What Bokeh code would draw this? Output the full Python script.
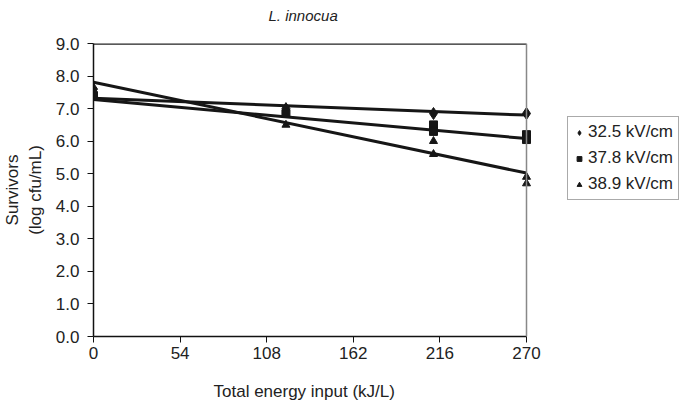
from bokeh.plotting import figure
from bokeh.models import (Legend, LegendItem, Span, FixedTicker, NumeralTickFormatter,
                          Range1d, Title)
from bokeh.embed import file_html
from bokeh.resources import INLINE

# Data
s325_x = [0, 120, 212, 270]
s325_y = [7.6, 7.0, 6.85, 6.85]
s378_x = [0, 120, 212, 212, 270, 270]
s378_y = [7.4, 6.85, 6.5, 6.3, 6.2, 6.05]
s389_x = [0, 120, 212, 212, 270, 270]
s389_y = [7.35, 6.5, 6.0, 5.6, 4.9, 4.7]

fit_x = [0, 270]
fit325 = [7.32, 6.80]
fit378 = [7.28, 6.08]
fit389 = [7.81, 5.02]

x_ticks = [0, 54, 108, 162, 216, 270]
y_ticks = [0, 1, 2, 3, 4, 5, 6, 7, 8, 9]
labels = ["32.5 kV/cm", "37.8 kV/cm", "38.9 kV/cm"]
x_title = "Total energy input (kJ/L)"
y_title = "Survivors\n(log cfu/mL)"

FONT = "Liberation Sans"
X_MAX = x_ticks[-1]
Y_MAX = y_ticks[-1]
# frame extends to the right to host the legend; axis drawn only over 0..270
LEFT, RIGHT_PAD, WIDTH = 93, 1, 681
AXIS_PX = 433
x_end = X_MAX * (WIDTH - LEFT - RIGHT_PAD) / AXIS_PX

p = figure(width=WIDTH, height=403, output_backend="svg", toolbar_location=None,
           x_range=Range1d(0, x_end), y_range=Range1d(0, Y_MAX),
           min_border_left=LEFT, min_border_right=RIGHT_PAD, min_border_top=43, min_border_bottom=67)

ttl = Title(text="L. innocua", align="left", offset=175, vertical_align="top", standoff=0,
            padding=dict(left=0, right=0, top=6, bottom=18),
            text_font=FONT, text_font_size="15px", text_font_style="italic", text_color="#222222")
p.add_layout(ttl, "above")

p.xgrid.visible = False
p.ygrid.visible = False
p.outline_line_color = None
p.background_fill_color = "white"
p.border_fill_color = "white"

for ax in (p.xaxis[0], p.yaxis[0]):
    ax.axis_line_color = "#111111"
    ax.axis_line_width = 1.5
    ax.major_tick_line_color = "#111111"
    ax.major_tick_in = 0
    ax.major_tick_out = 6
    ax.minor_tick_line_color = None
    ax.major_label_text_font = FONT
    ax.major_label_text_font_size = "17px"
    ax.major_label_text_color = "#222222"
    ax.axis_label_text_font = FONT
    ax.axis_label_text_font_size = "17px"
    ax.axis_label_text_font_style = "normal"
    ax.axis_label_text_color = "#222222"

p.xaxis.bounds = (0, X_MAX)
p.xaxis.ticker = FixedTicker(ticks=x_ticks)
p.yaxis.ticker = FixedTicker(ticks=y_ticks)
p.yaxis.formatter = NumeralTickFormatter(format="0.0")
p.xaxis.major_label_standoff = 4
p.yaxis.major_label_standoff = 8
p.yaxis.axis_label = y_title
p.yaxis.axis_label_standoff = 8

# x-axis title centred under the 0..270 axis (not the wider frame)
xt = Title(text=x_title, align="left", offset=120, standoff=0, vertical_align="top",
           padding=dict(left=0, right=0, top=20, bottom=0),
           text_font=FONT, text_font_size="17px", text_font_style="normal",
           text_color="#222222")
p.add_layout(xt, "below")

# frame top border (only over the 0..270 span) and right border in grey
p.line([x_ticks[0], X_MAX], [Y_MAX, Y_MAX], line_color="#222222", line_width=2.4)
p.add_layout(Span(location=X_MAX, dimension="height", line_color="#888888", line_width=1.5))

# trend lines
p.line(fit_x, fit325, line_color="#161616", line_width=3)
p.line(fit_x, fit378, line_color="#161616", line_width=3)
p.line(fit_x, fit389, line_color="#161616", line_width=3)

r1 = p.scatter(s325_x, s325_y, marker="diamond", size=12, color="#161616")
r2 = p.scatter(s378_x, s378_y, marker="square", size=8, color="#161616")
r3 = p.scatter(s389_x, s389_y, marker="triangle", size=8, color="#161616")

legend = Legend(items=[LegendItem(label=labels[0], renderers=[r1]),
                       LegendItem(label=labels[1], renderers=[r2]),
                       LegendItem(label=labels[2], renderers=[r3])],
                location=(474, 136))
legend.label_text_font = FONT
legend.label_text_font_size = "17px"
legend.label_text_color = "#222222"
legend.border_line_color = "#555555"
legend.border_line_width = 1
legend.background_fill_color = "white"
legend.background_fill_alpha = 1
legend.padding = 5
legend.spacing = 6
legend.label_height = 20
legend.glyph_height = 15
legend.glyph_width = 12
legend.label_standoff = 3
legend.margin = 0
p.add_layout(legend, "center")

open("out.html", "w").write(file_html(p, INLINE))
